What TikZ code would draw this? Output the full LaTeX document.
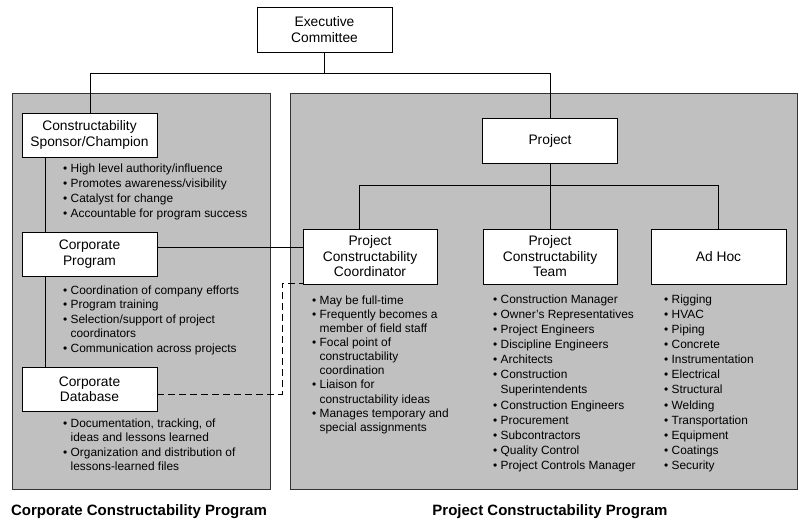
\documentclass[tikz,border=0pt]{standalone}
\usepackage{fontspec}
\setmainfont{Liberation Sans}
\usetikzlibrary{calc}
\definecolor{panelgray}{RGB}{192,192,192}
\newcommand{\bx}{\fontsize{13.8}{15.5}\selectfont}
\newcommand{\bi}{•\ }
\newcommand{\ci}{\hphantom{•\ }}
\begin{document}
\begin{tikzpicture}[x=1pt,y=-1pt,
  panel/.style={draw=black!80, fill=panelgray, line width=0.8pt},
  orgbox/.style={draw, fill=white, line width=0.9pt, inner sep=0pt, align=center,
    minimum width=135pt, font=\bx},
  conn/.style={line width=0.9pt},
  dconn/.style={line width=0.9pt, dash pattern=on 7pt off 4pt},
  blist/.style={anchor=north west, inner sep=0pt, align=left},
  caption/.style={font=\fontsize{15}{17}\selectfont\bfseries, inner sep=0pt}
]
\useasboundingbox (0,0) rectangle (802,525);

% panels
\draw[panel] (12,93) rectangle (270,489);
\draw[panel] (290,93) rectangle (797,489);

% boxes
\node[orgbox, minimum height=45pt] (ec) at (324.5,29.5) {Executive\\Committee};
\node[orgbox, minimum height=44pt] (sp) at (89.5,135) {Constructability\\Sponsor/Champion};
\node[orgbox, minimum height=44pt] (cp) at (89.5,254) {Corporate\\Program};
\node[orgbox, minimum height=44pt] (db) at (89.5,389) {Corporate\\Database};
\node[orgbox, minimum height=45pt] (pj) at (550,140.5) {Project};
\node[orgbox, minimum height=55pt, minimum width=134pt] (pcc) at (370,256.5) {Project\\Constructability\\Coordinator};
\node[orgbox, minimum height=55pt, minimum width=134pt] (pct) at (550,256.5) {Project\\Constructability\\Team};
\node[orgbox, minimum height=55pt] (ah) at (718.5,256.5) {Ad Hoc};

% helper coordinates
\coordinate (t1) at (90,73);
\coordinate (t2) at (550,73);
\coordinate (b1) at (359,185);
\coordinate (b3) at (718.5,185);
\coordinate (lv) at (45,0);
\coordinate (h1) at (0,247);
\coordinate (d1) at (282,394);
\coordinate (d2) at (282,283);

% connectors
\draw[conn] (ec.south) -- (ec.south |- t1) -- (t1) -- (sp.north -| t1);
\draw[conn] (ec.south |- t1) -- (t2) -- (pj.north -| t2);
\draw[conn] (pj.south) -- (pct.north);
\draw[conn] (b1) -- (b3);
\draw[conn] (b1) -- (pcc.north -| b1);
\draw[conn] (b3) -- (ah.north -| b3);
\draw[conn] (sp.south -| lv) -- (cp.north -| lv);
\draw[conn] (cp.south -| lv) -- (db.north -| lv);
\draw[conn] (cp.east |- h1) -- (pcc.west |- h1);
\draw[dconn] (db.east |- d1) -- (d1) -- (d2) -- (pcc.west |- d2);

% bullet lists
\node[blist, font=\fontsize{11.9}{15}\selectfont] (l1) at (63,163.5) {%
\bi High level authority/influence\\
\bi Promotes awareness/visibility\\
\bi Catalyst for change\\
\bi Accountable for program success};
\node[blist, font=\fontsize{11.9}{14.5}\selectfont] (l2) at (63,285.5) {%
\bi Coordination of company efforts\\
\bi Program training\\
\bi Selection/support of project\\
\ci coordinators\\
\bi Communication across projects};
\node[blist, font=\fontsize{11.9}{14.4}\selectfont] (l3) at (63,418.5) {%
\bi Documentation, tracking, of\\
\ci ideas and lessons learned\\
\bi Organization and distribution of\\
\ci lessons-learned files};
\node[blist, font=\fontsize{11.9}{14.1}\selectfont] (l4) at (312,295.5) {%
\bi May be full-time\\
\bi Frequently becomes a\\
\ci member of field staff\\
\bi Focal point of\\
\ci constructability\\
\ci coordination\\
\bi Liaison for\\
\ci constructability ideas\\
\bi Manages temporary and\\
\ci special assignments};
\node[blist, font=\fontsize{11.9}{15.1}\selectfont] (l5) at (493,294.5) {%
\bi Construction Manager\\
\bi Owner's Representatives\\
\bi Project Engineers\\
\bi Discipline Engineers\\
\bi Architects\\
\bi Construction\\
\ci Superintendents\\
\bi Construction Engineers\\
\bi Procurement\\
\bi Subcontractors\\
\bi Quality Control\\
\bi Project Controls Manager};
\node[blist, font=\fontsize{11.9}{15.1}\selectfont] (l6) at (664,294.5) {%
\bi Rigging\\
\bi HVAC\\
\bi Piping\\
\bi Concrete\\
\bi Instrumentation\\
\bi Electrical\\
\bi Structural\\
\bi Welding\\
\bi Transportation\\
\bi Equipment\\
\bi Coatings\\
\bi Security};

% captions
\node[caption] (c1) at (139,512) {Corporate Constructability Program};
\node[caption] (c2) at (550,512) {Project Constructability Program};
\end{tikzpicture}
\end{document}
